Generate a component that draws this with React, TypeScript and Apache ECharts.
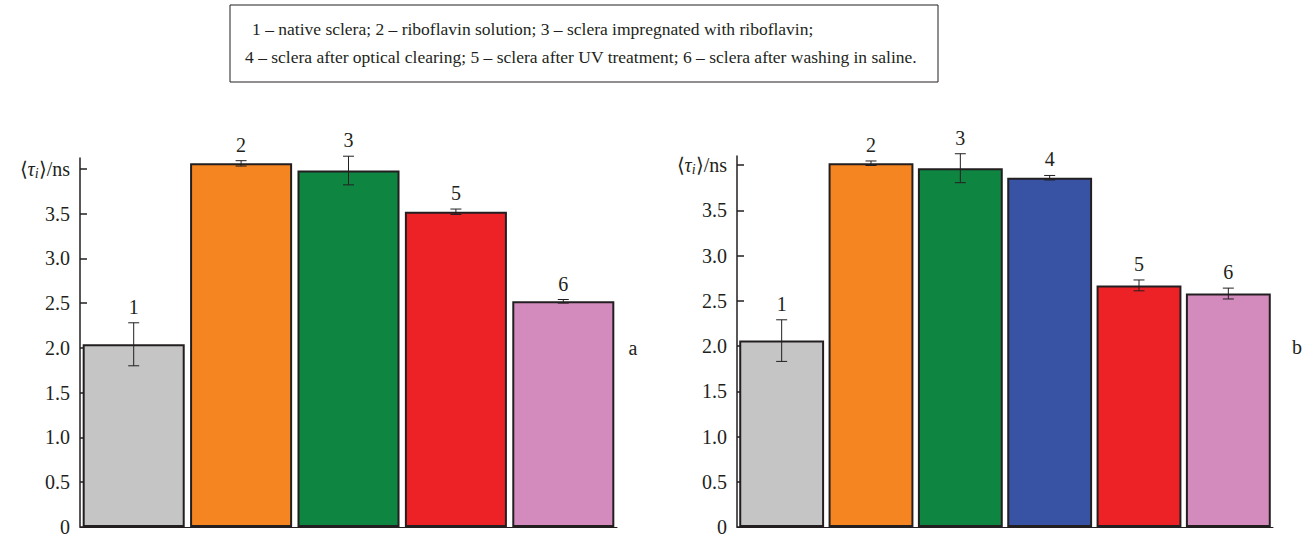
import React, { useEffect, useRef } from "react";
import * as echarts from "echarts";

const catA = ["1", "2", "3", "5", "6"];
const valA = [2.04, 4.06, 3.98, 3.52, 2.52];
const errA = [0.24, 0.03, 0.16, 0.03, 0.02];
const colA = ["#c5c5c5", "#f58521", "#0f8542", "#ec2227", "#d38bbd"];

const catB = ["1", "2", "3", "4", "5", "6"];
const valB = [2.06, 4.02, 3.965, 3.86, 2.67, 2.58];
const errB = [0.23, 0.025, 0.16, 0.025, 0.06, 0.06];
const colB = ["#c5c5c5", "#f58521", "#0f8542", "#3953a4", "#ec2227", "#d38bbd"];

const yTicks = [0, 0.5, 1, 1.5, 2, 2.5, 3, 3.5, 4];

const legendLine1 = "1 – native sclera; 2 – riboflavin solution; 3 – sclera impregnated with riboflavin;";
const legendLine2 = "4 – sclera after optical clearing; 5 – sclera after UV treatment; 6 – sclera after washing in saline.";

const FONT = "Liberation Serif, Times New Roman, serif";
const INK = "#231f20";
const FS = 20;

function yAxisCfg(grid: number, max: number) {
  return {
    type: "value",
    gridIndex: grid,
    min: 0,
    max,
    interval: 0.5,
    splitLine: { show: false },
    axisLine: { show: true, lineStyle: { color: INK, width: 1.5 } },
    axisTick: { show: true, inside: true, length: 7, customValues: yTicks, lineStyle: { color: INK, width: 1.5 } },
    axisLabel: {
      customValues: yTicks,
      margin: 10,
      color: INK,
      fontFamily: FONT,
      fontSize: FS,
      formatter: (v: number) => {
        if (v === 0) return "{n|0}";
        if (Math.abs(v - 4) < 1e-9) return "{n|⟨}{it|τ}{sub|i}{n|⟩/ns}";
        return "{n|" + v.toFixed(1) + "}";
      },
      rich: {
        n: { fontFamily: FONT, fontSize: FS, color: INK },
        it: { fontFamily: FONT, fontSize: FS, fontStyle: "italic", color: INK },
        sub: { fontFamily: FONT, fontSize: 14, fontStyle: "italic", color: INK, padding: [9, 0, 0, 0] },
      },
    },
  };
}

function xAxisCfg(grid: number, data: string[]) {
  return {
    type: "category",
    gridIndex: grid,
    data,
    axisLine: { show: true, lineStyle: { color: INK, width: 1 } },
    axisTick: { show: false },
    axisLabel: { show: false },
  };
}

function barSeries(idx: number, vals: number[], cols: string[]) {
  return {
    type: "bar",
    xAxisIndex: idx,
    yAxisIndex: idx,
    barCategoryGap: "5%",
    data: vals.map((v, i) => ({ value: v, itemStyle: { color: cols[i] } })),
    itemStyle: { borderColor: INK, borderWidth: 2 },
    z: 2,
  };
}

function errSeries(idx: number, vals: number[], errs: number[], cats: string[]) {
  return {
    type: "custom",
    xAxisIndex: idx,
    yAxisIndex: idx,
    z: 5,
    data: vals.map((v, i) => [i, v - errs[i], v + errs[i]]),
    renderItem: (params: any, api: any) => {
      const i = api.value(0);
      const top = api.coord([i, api.value(2)]);
      const bot = api.coord([i, api.value(1)]);
      const x = top[0];
      const c = 5.5;
      const st = { stroke: INK, lineWidth: 1 };
      return {
        type: "group",
        children: [
          { type: "line", shape: { x1: x, y1: top[1], x2: x, y2: bot[1] }, style: st },
          { type: "line", shape: { x1: x - c, y1: top[1], x2: x + c, y2: top[1] }, style: st },
          { type: "line", shape: { x1: x - c, y1: bot[1], x2: x + c, y2: bot[1] }, style: st },
          {
            type: "text",
            x,
            y: top[1] - 6,
            style: {
              text: cats[params.dataIndex],
              fontFamily: FONT,
              fontSize: FS,
              fill: INK,
              align: "center",
              verticalAlign: "bottom",
            },
          },
        ],
      };
    },
  };
}

export default function App() {
  const ref = useRef<HTMLDivElement>(null);
  useEffect(() => {
    if (!ref.current) return;
    const chart = echarts.init(ref.current, null, { renderer: "svg" });
    chart.setOption({
      animation: false,
      backgroundColor: "#ffffff",
      textStyle: { fontFamily: FONT, color: INK },
      grid: [
        { left: 80, top: 158, width: 537, height: 372 },
        { left: 737, top: 156, width: 536, height: 374 },
      ],
      xAxis: [xAxisCfg(0, catA), xAxisCfg(1, catB)],
      yAxis: [yAxisCfg(0, 4.12), yAxisCfg(1, 4.1)],
      series: [
        barSeries(0, valA, colA),
        errSeries(0, valA, errA, catA),
        barSeries(1, valB, colB),
        errSeries(1, valB, errB, catB),
      ],
      graphic: [
        {
          type: "rect",
          shape: { x: 230, y: 5, width: 708, height: 77 },
          style: { fill: "none", stroke: INK, lineWidth: 1 },
        },
        {
          type: "text",
          x: 252,
          y: 29,
          style: { text: legendLine1, fontFamily: FONT, fontSize: 17.5, fill: INK, verticalAlign: "middle" },
        },
        {
          type: "text",
          x: 245,
          y: 57,
          style: { text: legendLine2, fontFamily: FONT, fontSize: 17.5, fill: INK, verticalAlign: "middle" },
        },
        {
          type: "text",
          x: 633,
          y: 348,
          style: { text: "a", fontFamily: FONT, fontSize: FS, fill: INK, align: "center", verticalAlign: "middle" },
        },
        {
          type: "text",
          x: 1297,
          y: 347,
          style: { text: "b", fontFamily: FONT, fontSize: FS, fill: INK, align: "center", verticalAlign: "middle" },
        },
      ],
    });
    return () => chart.dispose();
  }, []);
  return <div ref={ref} style={{ width: 1313, height: 537, position: "absolute", left: 0, top: 0 }} />;
}
